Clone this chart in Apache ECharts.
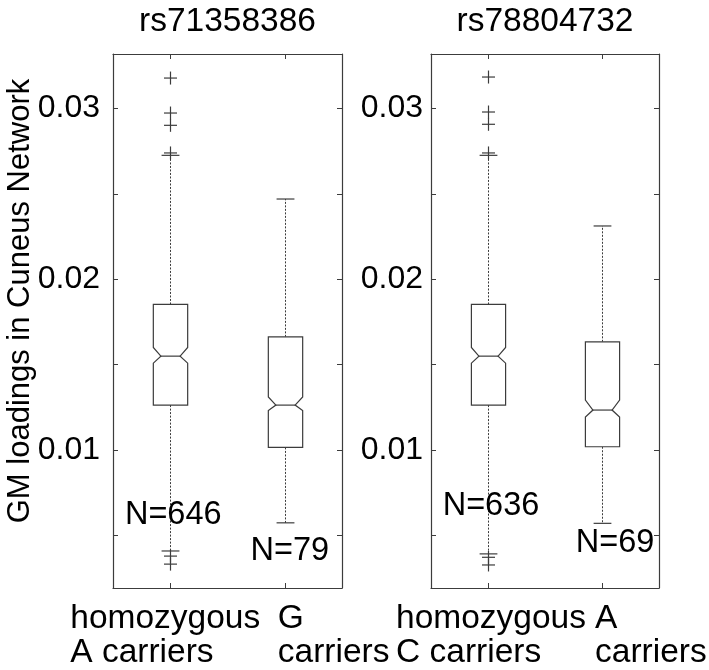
<!DOCTYPE html>
<html>
<head>
<meta charset="utf-8">
<script src="https://cdn.jsdelivr.net/npm/echarts@6/dist/echarts.min.js"></script>
<style>html,body{margin:0;padding:0;background:#fff;}#c{width:709px;height:670px;}</style>
</head>
<body>
<div id="c"></div>
<script>
// ---------- data ----------
const panelTitles = ['rs71358386', 'rs78804732'];
const yAxisTitle = 'GM loadings in Cuneus Network';

const snp1Groups = ['homozygous\nA carriers', 'G\ncarriers'];
const snp1Low = [0.00407, 0.00572];
const snp1Q1 = [0.01262, 0.01014];
const snp1NotchLo = [0.01508, 0.01230];
const snp1Median = [0.01549, 0.01262];
const snp1NotchHi = [0.01600, 0.01310];
const snp1Q3 = [0.01852, 0.01662];
const snp1High = [0.02726, 0.02470];
const snp1Outliers = [[0, 0.03179], [0, 0.02974], [0, 0.02902], [0, 0.02740], [0, 0.00377], [0, 0.00330]];
const snp1N = [646, 79];

const snp2Groups = ['homozygous\nC carriers', 'A\ncarriers'];
const snp2Low = [0.00390, 0.00569];
const snp2Q1 = [0.01262, 0.01018];
const snp2NotchLo = [0.01508, 0.01192];
const snp2Median = [0.01549, 0.01233];
const snp2NotchHi = [0.01600, 0.01291];
const snp2Q3 = [0.01852, 0.01633];
const snp2High = [0.02726, 0.02312];
const snp2Outliers = [[0, 0.03185], [0, 0.02980], [0, 0.02908], [0, 0.02740], [0, 0.00370], [0, 0.00325]];
const snp2N = [636, 69];

const yTickLabels = [0.01, 0.02, 0.03];
const yMinorTicks = [0.005, 0.01, 0.015, 0.02, 0.025, 0.03];

// ---------- layout / style ----------
const FONT = '"Liberation Sans", Arial, Helvetica, sans-serif';
const FS = 32;
const FS_BIG = 33.5;
const LINE = '#3c3c3c';
const TXT = '#000';
const Y_MIN = 0.0019, Y_MAX = 0.0332;
const grids = [
  { left: 113, top: 54, width: 229, height: 534, outerBoundsMode: 'none', containLabel: false },
  { left: 431, top: 54, width: 228, height: 534, outerBoundsMode: 'none', containLabel: false }
];
// horizontal offset of each x label block's left edge, left of its tick
const labelOffsets = [[100, 7], [92, 7]];
// N label anchors: [dx px, y value]
const nAnchors = [[[3, 0.00617], [5, 0.00407]], [[3, 0.0067], [13, 0.00453]]];

const panels = [
  { groups: snp1Groups, low: snp1Low, q1: snp1Q1, nlo: snp1NotchLo, med: snp1Median, nhi: snp1NotchHi, q3: snp1Q3, high: snp1High, out: snp1Outliers, n: snp1N },
  { groups: snp2Groups, low: snp2Low, q1: snp2Q1, nlo: snp2NotchLo, med: snp2Median, nhi: snp2NotchHi, q3: snp2Q3, high: snp2High, out: snp2Outliers, n: snp2N }
];

function renderBox(params, api) {
  const i = api.value(0);
  const c = v => api.coord([i, v]);
  const band = api.size([1, 0])[0];
  const hw = band * 0.15, nw = hw * 0.56, cw = hw * 0.52;
  const x = Math.round(c(api.value(4))[0]) + 0.5;
  const yLow = c(api.value(1))[1], yQ1 = c(api.value(2))[1], yNL = c(api.value(3))[1];
  const yMed = c(api.value(4))[1], yNH = c(api.value(5))[1], yQ3 = c(api.value(6))[1], yHigh = c(api.value(7))[1];
  const st = { stroke: LINE, lineWidth: 1.2, fill: null };
  const dash = { stroke: LINE, lineWidth: 1, lineDash: [2, 1.5], fill: null };
  return {
    type: 'group',
    children: [
      { type: 'line', shape: { x1: x, y1: yQ3, x2: x, y2: yHigh }, style: dash },
      { type: 'line', shape: { x1: x, y1: yQ1, x2: x, y2: yLow }, style: dash },
      { type: 'line', shape: { x1: x - cw, y1: yHigh, x2: x + cw, y2: yHigh }, style: st },
      { type: 'line', shape: { x1: x - cw, y1: yLow, x2: x + cw, y2: yLow }, style: st },
      { type: 'polygon', shape: { points: [
        [x - hw, yQ3], [x + hw, yQ3], [x + hw, yNH], [x + nw, yMed], [x + hw, yNL], [x + hw, yQ1],
        [x - hw, yQ1], [x - hw, yNL], [x - nw, yMed], [x - hw, yNH]
      ] }, style: { stroke: LINE, lineWidth: 1.2, fill: '#fff' } },
      { type: 'line', shape: { x1: x - nw, y1: yMed, x2: x + nw, y2: yMed }, style: st }
    ]
  };
}

function renderPlus(params, api) {
  const p = api.coord([api.value(0), api.value(1)]);
  const s = 6.5;
  const x = Math.round(p[0]) + 0.5;
  return {
    type: 'group',
    children: [
      { type: 'line', shape: { x1: x - s, y1: p[1], x2: x + s, y2: p[1] }, style: { stroke: LINE, lineWidth: 1.2 } },
      { type: 'line', shape: { x1: x, y1: p[1] - s, x2: x, y2: p[1] + s }, style: { stroke: LINE, lineWidth: 1.2 } }
    ]
  };
}

function makeNRender(pi) {
  return function (params, api) {
    const i = api.value(0);
    const p = api.coord([i, api.value(1)]);
    return {
      type: 'text',
      x: p[0] + nAnchors[pi][i][0], y: p[1],
      style: { text: 'N=' + api.value(2), font: '32.5px ' + FONT, fill: TXT, align: 'center', verticalAlign: 'middle' }
    };
  };
}

const xAxes = [], yAxes = [], series = [];
panels.forEach((P, pi) => {
  const rich = {};
  labelOffsets[pi].forEach((off, idx) => {
    rich['sp' + idx] = { width: 200 - off, align: 'left', fontSize: FS_BIG, fontFamily: FONT, lineHeight: 34 };
    rich['t' + idx] = { width: 200 + off, align: 'left', fontSize: FS_BIG, fontFamily: FONT, color: TXT, lineHeight: 34 };
  });
  // bottom
  xAxes.push({
    type: 'category', gridIndex: pi, data: P.groups, position: 'bottom',
    axisLine: { show: true, lineStyle: { color: LINE, width: 1.2 } },
    axisTick: { show: true, inside: true, alignWithLabel: true, length: 5, lineStyle: { color: LINE } },
    axisLabel: {
      interval: 0, margin: 14, color: TXT, fontSize: FS_BIG, fontFamily: FONT, lineHeight: 34, align: 'center',
      formatter: function (val, idx) {
        return val.split('\n').map(l => '{sp' + idx + '| }{t' + idx + '|' + l + '}').join('\n');
      },
      rich: rich
    },
    splitLine: { show: false }
  });
  // top
  xAxes.push({
    type: 'category', gridIndex: pi, data: P.groups, position: 'top',
    axisLine: { show: true, lineStyle: { color: LINE, width: 1.2 } },
    axisTick: { show: true, inside: true, alignWithLabel: true, length: 5, lineStyle: { color: LINE } },
    axisLabel: { show: false }, splitLine: { show: false }
  });
  // left
  yAxes.push({
    type: 'value', gridIndex: pi, min: Y_MIN, max: Y_MAX, position: 'left',
    axisLine: { show: true, lineStyle: { color: LINE, width: 1.2 } },
    axisTick: { show: true, inside: true, length: 5, customValues: yMinorTicks, lineStyle: { color: LINE } },
    axisLabel: { show: true, customValues: yTickLabels, margin: pi === 0 ? 13 : 8, color: TXT, fontSize: FS, fontFamily: FONT, formatter: v => v.toFixed(2) },
    splitLine: { show: false }
  });
  // right
  yAxes.push({
    type: 'value', gridIndex: pi, min: Y_MIN, max: Y_MAX, position: 'right',
    axisLine: { show: true, lineStyle: { color: LINE, width: 1.2 } },
    axisTick: { show: true, inside: true, length: 5, customValues: yMinorTicks, lineStyle: { color: LINE } },
    axisLabel: { show: false }, splitLine: { show: false }
  });
  series.push({
    type: 'custom', xAxisIndex: 2 * pi, yAxisIndex: 2 * pi, z: 3, silent: true,
    data: P.groups.map((g, i) => [i, P.low[i], P.q1[i], P.nlo[i], P.med[i], P.nhi[i], P.q3[i], P.high[i]]),
    encode: { x: 0, y: [1, 2, 3, 4, 5, 6, 7] },
    renderItem: renderBox
  });
  series.push({
    type: 'custom', xAxisIndex: 2 * pi, yAxisIndex: 2 * pi, z: 4, silent: true,
    data: P.out, encode: { x: 0, y: 1 }, renderItem: renderPlus
  });
  series.push({
    type: 'custom', xAxisIndex: 2 * pi, yAxisIndex: 2 * pi, z: 5, silent: true,
    data: P.n.map((n, i) => [i, nAnchors[pi][i][1], n]), encode: { x: 0, y: 1 },
    renderItem: makeNRender(pi)
  });
});

const chart = echarts.init(document.getElementById('c'), null, { renderer: 'canvas' });
chart.setOption({
  animation: false,
  backgroundColor: '#fff',
  grid: grids,
  xAxis: xAxes,
  yAxis: yAxes,
  series: series,
  graphic: [
    { type: 'text', x: grids[0].left + grids[0].width / 2, y: 22, style: { text: panelTitles[0], font: FS_BIG + 'px ' + FONT, fill: TXT, align: 'center', verticalAlign: 'middle' } },
    { type: 'text', x: grids[1].left + grids[1].width / 2, y: 22, style: { text: panelTitles[1], font: FS_BIG + 'px ' + FONT, fill: TXT, align: 'center', verticalAlign: 'middle' } },
    { type: 'text', x: 20, y: 301, rotation: Math.PI / 2, style: { text: yAxisTitle, font: '31px ' + FONT, fill: TXT, align: 'center', verticalAlign: 'middle' } }
  ]
});
</script>
</body>
</html>
